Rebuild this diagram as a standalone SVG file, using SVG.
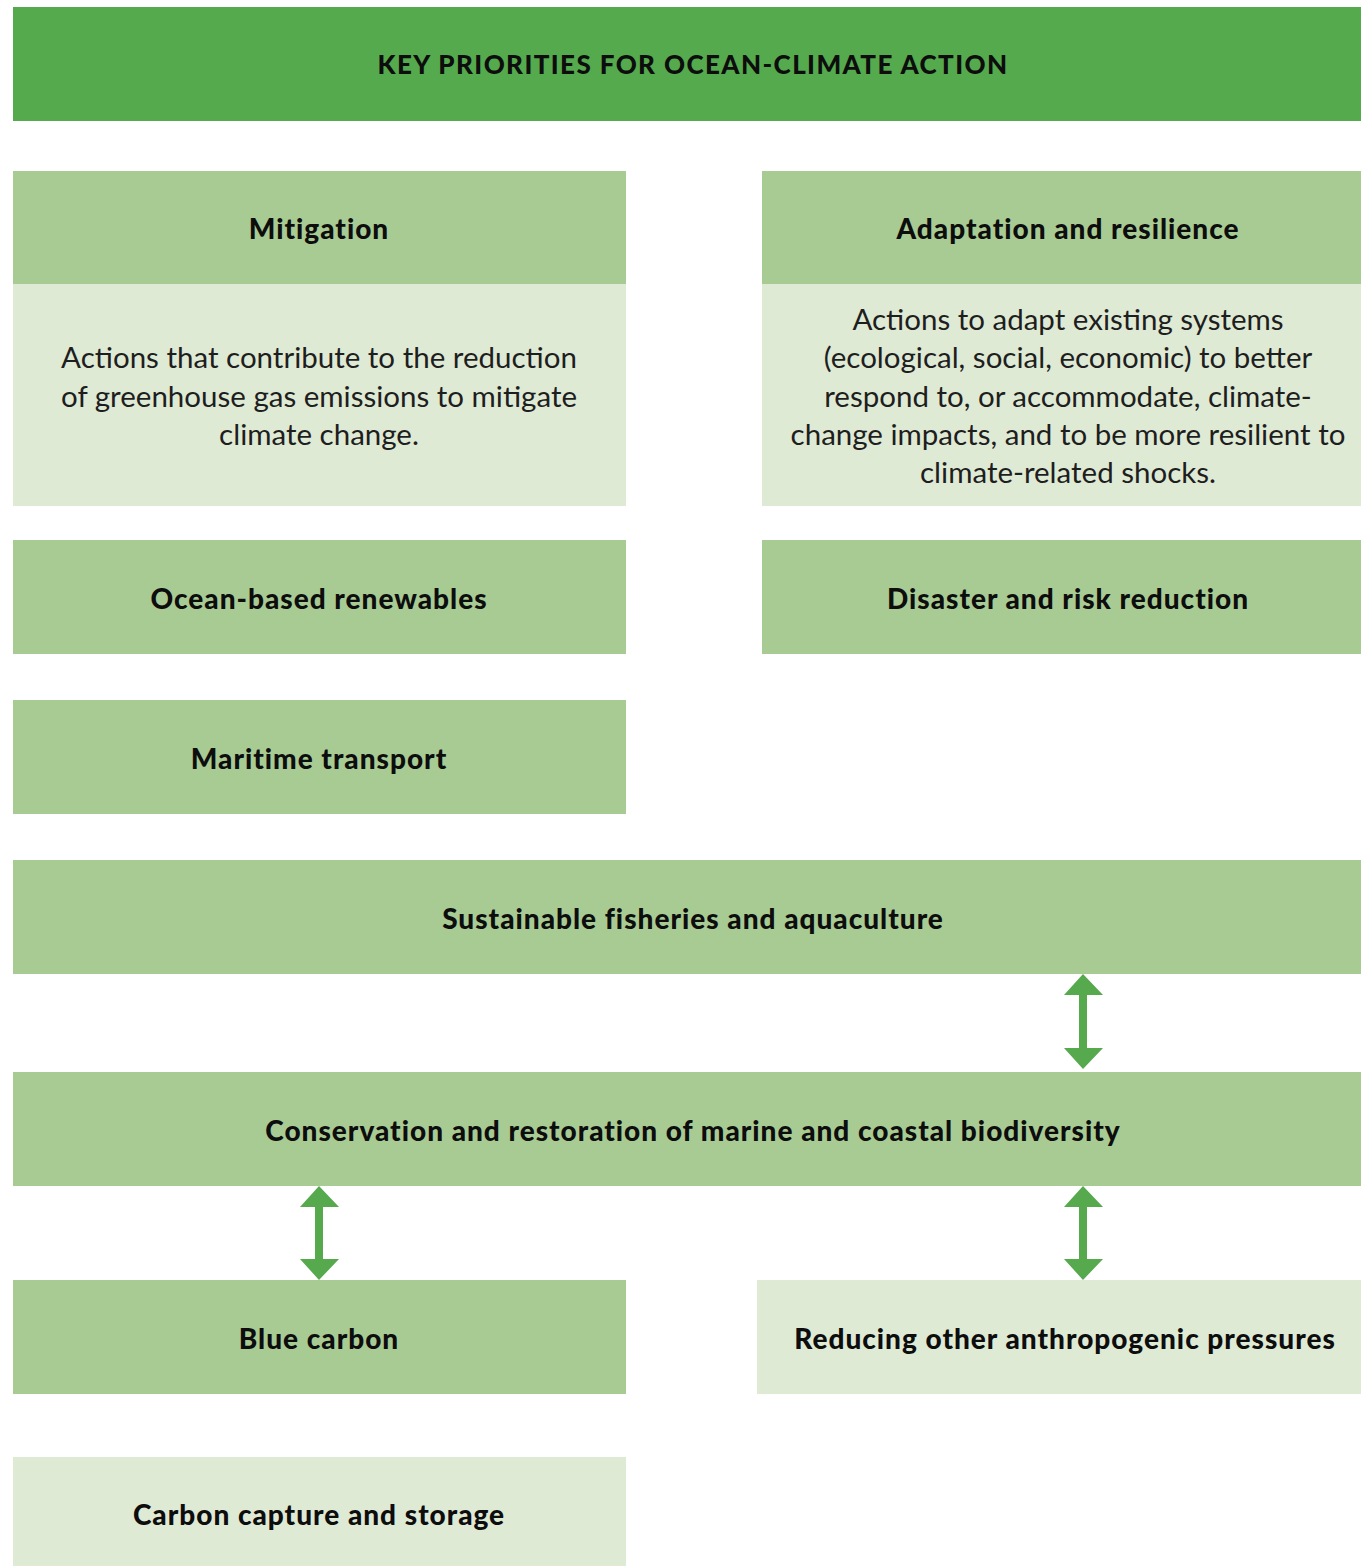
<svg xmlns="http://www.w3.org/2000/svg" width="1361" height="1566" viewBox="0 0 1361 1566">
<defs>
<style>
.dark{fill:#56aa4e}
.mid{fill:#a8cb94}
.light{fill:#dfead5}
text{font-family:"Lato","Open Sans",sans-serif;fill:#0d0d0d;text-anchor:middle;dominant-baseline:central}
.t{font-weight:900;font-size:26px;letter-spacing:1.4px}
.h{font-weight:900;font-size:28px;letter-spacing:1px}
.b{font-size:29.5px;fill:#1e1e1e}
.arrow{fill:#56a94c}
</style>
</defs>
<rect width="1361" height="1566" fill="#fff"/>
<g id="title"><rect class="dark" x="13" y="7" width="1348" height="114"/><text class="t" x="693" y="64">KEY PRIORITIES FOR OCEAN-CLIMATE ACTION</text></g>
<g id="mitigation"><rect class="mid" x="13" y="171" width="613" height="113"/><text class="h" x="319" y="228">Mitigation</text>
<rect class="light" x="13" y="284" width="613" height="222"/>
<text class="b" x="319" y="356">Actions that contribute to the reduction</text>
<text class="b" x="319" y="395">of greenhouse gas emissions to mitigate</text>
<text class="b" x="319" y="433">climate change.</text></g>
<g id="adaptation"><rect class="mid" x="762" y="171" width="599" height="113"/><text class="h" x="1068" y="228">Adaptation and resilience</text>
<rect class="light" x="762" y="284" width="599" height="222"/>
<text class="b" x="1068" y="318">Actions to adapt existing systems</text>
<text class="b" x="1068" y="356">(ecological, social, economic) to better</text>
<text class="b" x="1068" y="395">respond to, or accommodate, climate-</text>
<text class="b" x="1068" y="433">change impacts, and to be more resilient to</text>
<text class="b" x="1068" y="471">climate-related shocks.</text></g>
<g id="renewables"><rect class="mid" x="13" y="540" width="613" height="114"/><text class="h" x="319" y="598">Ocean-based renewables</text></g>
<g id="disaster"><rect class="mid" x="762" y="540" width="599" height="114"/><text class="h" x="1068" y="598">Disaster and risk reduction</text></g>
<g id="maritime"><rect class="mid" x="13" y="700" width="613" height="114"/><text class="h" x="319" y="758">Maritime transport</text></g>
<g id="fisheries"><rect class="mid" x="13" y="860" width="1348" height="114"/><text class="h" x="693" y="918">Sustainable fisheries and aquaculture</text></g>
<g id="conservation"><rect class="mid" x="13" y="1072" width="1348" height="114"/><text class="h" x="693" y="1130">Conservation and restoration of marine and coastal biodiversity</text></g>
<g id="bluecarbon"><rect class="mid" x="13" y="1280" width="613" height="114"/><text class="h" x="319" y="1338">Blue carbon</text></g>
<g id="reducing"><rect class="light" x="757" y="1280" width="604" height="114"/><text class="h" x="1065" y="1338">Reducing other anthropogenic pressures</text></g>
<g id="ccs"><rect class="light" x="13" y="1457" width="613" height="109"/><text class="h" x="319" y="1514">Carbon capture and storage</text></g>
<g id="connectors">
<path class="arrow" d="M1083 974 L1103 995 L1087 995 L1087 1048 L1103 1048 L1083 1069 L1064 1048 L1079 1048 L1079 995 L1064 995 Z"/>
<path class="arrow" d="M319 1186 L339 1207 L323 1207 L323 1259 L339 1259 L319 1280 L300 1259 L315 1259 L315 1207 L300 1207 Z"/>
<path class="arrow" d="M1083 1186 L1103 1207 L1087 1207 L1087 1259 L1103 1259 L1083 1280 L1064 1259 L1079 1259 L1079 1207 L1064 1207 Z"/>
</g>
</svg>
